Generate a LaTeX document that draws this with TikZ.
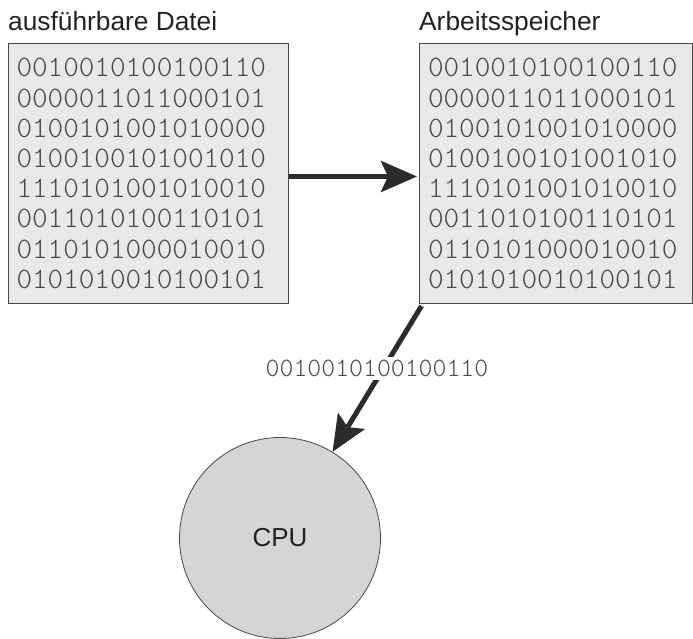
\documentclass[tikz,border=0pt]{standalone}
\usepackage{fontspec}
\setmainfont{Liberation Sans}
\newfontfamily\bitfont{lmmonolt10-regular.otf}
\usetikzlibrary{arrows.meta}
\definecolor{boxfill}{HTML}{E8E9EA}
\definecolor{cpufill}{HTML}{D3D5D6}
\definecolor{edgec}{HTML}{4A4A4A}
\definecolor{bitsc}{HTML}{4A4A4A}
\definecolor{arrowc}{HTML}{2B2B2B}
\definecolor{titlec}{HTML}{222222}
\begin{document}
\begin{tikzpicture}[x=1pt,y=-1pt,
  membox/.style={draw=edgec, line width=1pt, fill=boxfill, anchor=north west,
    minimum height=260pt, inner xsep=8pt, inner ysep=0pt, align=left,
    text=bitsc, font=\fontsize{29.7}{30.2}\selectfont\bitfont},
  title/.style={anchor=base west, inner sep=0pt, text=titlec, font=\fontsize{26.3}{30}\selectfont},
  arr/.style={draw=arrowc, line width=5pt, -{Stealth[length=36pt, width=31pt, inset=7pt]}},
  bitlabel/.style={fill=white, inner xsep=2pt, inner ysep=3pt, text=bitsc, font=\fontsize{26.5}{28}\selectfont\bitfont},
  cpustyle/.style={circle, draw=edgec, line width=0.8pt, fill=cpufill, minimum size=201pt, inner sep=0pt,
    text=titlec, font=\fontsize{26}{30}\selectfont}
]
\useasboundingbox (0,0) rectangle (693,638);
\node[title] (t1) at (8,30.5) {ausführbare Datei};
\node[title] (t2) at (419,30.5) {Arbeitsspeicher};
\node[membox, minimum width=280pt, text width=264pt] (exe) at (8,43) {0010010100100110\\0000011011000101\\0100101001010000\\0100100101001010\\1110101001010010\\0011010100110101\\0110101000010010\\0101010010100101};
\node[membox, minimum width=273pt, text width=256pt] (ram) at (419,43) {0010010100100110\\0000011011000101\\0100101001010000\\0100100101001010\\1110101001010010\\0011010100110101\\0110101000010010\\0101010010100101};
\node[cpustyle] (cpu) at (280,538) {CPU};
\draw[arr, shorten >=2pt] ([yshift=-3pt]exe.east) -- ([yshift=-3pt]ram.west);
\draw[arr] ([shift={(2.5,2)}]ram.south west) -- (cpu);
\node[bitlabel] (bits) at (377,368.5) {0010010100100110};
\end{tikzpicture}
\end{document}
